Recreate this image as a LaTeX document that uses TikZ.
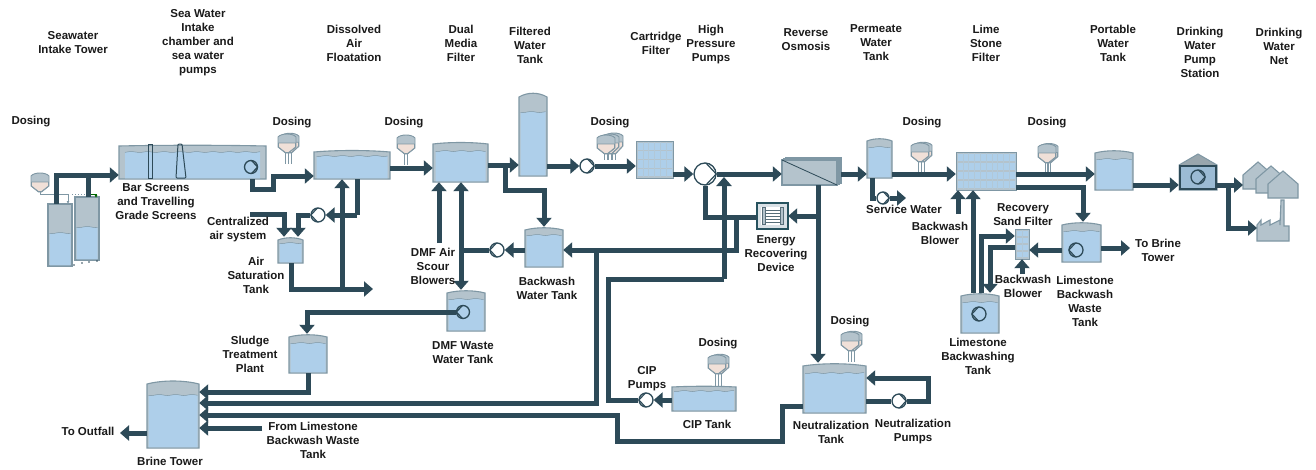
\documentclass[tikz,border=0pt]{standalone}
\usepackage{fontspec}
\setmainfont{Liberation Sans}
\usetikzlibrary{arrows.meta,fit}
\definecolor{pipec}{HTML}{2D4A58}
\definecolor{shell}{HTML}{B4C3CC}
\definecolor{edgec}{HTML}{7F97A4}
\definecolor{waterc}{HTML}{AECFEA}
\definecolor{pinkc}{HTML}{F0E0D8}
\definecolor{txtc}{HTML}{1A1A1A}
\tikzset{
  pipe/.style={draw=pipec,line width=5pt},
  pipea/.style={pipe,-{Triangle[length=9pt,width=15pt]}},
  lab/.style={text=txtc,align=center,inner sep=0pt,font=\fontsize{11.5}{14}\selectfont\bfseries},
  shellst/.style={fill=shell,draw=edgec,line width=1.1pt},
  thin grey/.style={draw=edgec,line width=1pt},
  pumpst/.style={circle,draw=pipec,fill=white,line width=1.3pt,inner sep=0pt},
  tankpump/.style={circle,draw=pipec,line width=1.3pt,inner sep=0pt}
}
\def\tinset{1.5}
\newcommand\mktank[7][3]{%
  \path[shellst] (#3,#4+#1) .. controls (#3+.3*#5-.3*#3,#4) and (#5-.3*#5+.3*#3,#4) .. (#5,#4+#1) -- (#5,#6) -- (#3,#6) -- cycle;
  \fill[waterc] (#3+\tinset,#6-0.6) -- plot[domain=#3+\tinset:#5-\tinset,samples=40] (\x,{#7+0.5*sin(22*(\x-#3))}) -- (#5-\tinset,#6-0.6) -- cycle;
  \draw[edgec,line width=.5pt] plot[domain=#3+\tinset:#5-\tinset,samples=40] (\x,{#7+0.5*sin(22*(\x-#3))});
  \coordinate (#2-a) at (#3,#4);\coordinate (#2-b) at (#5,#6);
  \node[fit=(#2-a)(#2-b),inner sep=0pt] (#2) {};
}
\newcommand\dosing[4]{%
  \foreach \o in {#1}{%
    \draw[thin grey,line width=.8pt] (#2+\o-1.5,#3+20) -- (#2+\o-1.5,#4) (#2+\o+1.5,#3+20) -- (#2+\o+1.5,#4);
    \path[shellst,line width=.9pt] (#2+\o-9,#3-\o/4+4) .. controls (#2+\o-6,#3-\o/4) and (#2+\o+6,#3-\o/4) .. (#2+\o+9,#3-\o/4+4) -- (#2+\o+9,#3-\o/4+14) -- (#2+\o+1.5,#3+20) -- (#2+\o-1.5,#3+20) -- (#2+\o-9,#3-\o/4+14) -- cycle;
    \path[fill=pinkc,draw=edgec,line width=.7pt] (#2+\o-8.5,#3-\o/4+10) -- (#2+\o+8.5,#3-\o/4+10) -- (#2+\o+8.5,#3-\o/4+14) -- (#2+\o+1.5,#3+19.5) -- (#2+\o-1.5,#3+19.5) -- (#2+\o-8.5,#3-\o/4+14) -- cycle;
  }%
}
\newcommand\pmp[6][pumpst]{%
  \node[#1,minimum size=#5*2pt] (#2) at (#3,#4) {};
  \draw[pipec,line width=1.2pt,line join=round] ({#3+#5*cos(#6+85)},{#4-#5*sin(#6+85)}) -- ({#3+#5*1.02*cos(#6)},{#4-#5*1.02*sin(#6)}) -- ({#3+#5*cos(#6-85)},{#4-#5*sin(#6-85)});
}
\newcommand\gridbox[7]{%
  \fill[shell] (#2,#3) rectangle (#4,#5);
  \pgfmathsetmacro\rh{(#5-#3-2)/#6}
  \pgfmathsetmacro\cw{(#4-#2-2)/#7}
  \foreach \r in {1,...,#6}{\fill[waterc] (#2+1.5,#3+1+\rh*\r-\rh+.6) rectangle (#4-1.5,#3+1+\rh*\r-.6);}
  \foreach \c in {1,...,#7}{\draw[shell!60!waterc,line width=.4pt] (#2+1+\cw*\c,#3+1) -- (#2+1+\cw*\c,#5-1);}
  \draw[edgec,line width=1pt] (#2,#3) rectangle (#4,#5);
  \coordinate (#1-a) at (#2,#3);\coordinate (#1-b) at (#4,#5);
  \node[fit=(#1-a)(#1-b),inner sep=0pt] (#1) {};
}
\begin{document}
\begin{tikzpicture}[x=1pt,y=-1pt]
\useasboundingbox (0,0) rectangle (1316,469);
\fill[white] (0,0) rectangle (1316,469);

% ---- tanks
\mktank[0]{intA}{48}{204}{72}{266}{233}
\mktank[0]{intB}{75}{197}{99}{260}{227}
\def\tinset{6}
\mktank[1]{bar}{119}{145}{266}{179}{152}
\def\tinset{1.5}
\draw[pipec,line width=1pt] (148,144.5) rectangle (152,178);
\draw[pipec,line width=1pt,rounded corners=1pt] (178,144) -- (182,144) -- (186,178) -- (176,178) -- cycle;
\def\tinset{2.5}
\mktank[2]{daf}{314}{150}{390}{179}{156}
\mktank[2]{dmf}{433}{142}{488}{182}{151}
\def\tinset{1.5}
\mktank[5]{filt}{519}{92}{547}{176}{112}
\mktank{air}{278}{237}{303}{263}{243}
\mktank{bwt}{525}{227}{563}{267}{235}
\mktank{dmfw}{447}{290}{485}{331}{299}
\mktank{sludge}{289}{334}{327}{373}{343}
\mktank[4]{brine}{147}{380}{199}{448}{395}
\def\tinset{2}
\mktank[1]{cip}{672}{386}{736}{411}{391}
\mktank[3]{neut}{803}{363}{866}{413}{373}
\def\tinset{1.5}
\mktank{perm}{867}{138}{892}{178}{147}
\mktank{potable}{1095}{150}{1133}{190}{159}
\mktank{lbwaste}{1062}{222}{1101}{262}{231}
\mktank{lbtank}{961}{293}{999}{333}{302}

% ---- filters
\gridbox{cart}{636}{141}{673}{178}{4}{6}
\gridbox{lime}{956}{152}{1016}{190}{4}{10}
\gridbox{sand}{1015}{229}{1029}{259}{4}{2}

% ---- reverse osmosis
\path[shellst] (786,158) rectangle (841,183);
\path[shellst] (784,159) rectangle (839,184);
\path[shellst] (782,160) rectangle (837,185);
\draw[pipec,line width=.8pt] (782,160) -- (837,185);
\coordinate (ro-a) at (782,160);\coordinate (ro-b) at (841,185);
\node[fit=(ro-a)(ro-b),inner sep=0pt] (ro) {};

% ---- energy recovering device
\path[fill=shell!50,draw=pipec!85!teal,line width=1.6pt] (757,203) rectangle (788,229);
\fill[white] (761,207) rectangle (784,225);
\foreach \yy in {210,213,216,219,222}{\draw[pipec!80,line width=.9pt] (763,\yy) -- (782,\yy);}
\draw[pipec!80,fill=shell,line width=.8pt] (762,207.5) rectangle (765,224.5) (780,207.5) rectangle (783,224.5);
\coordinate (erd-a) at (757,203);\coordinate (erd-b) at (788,229);
\node[fit=(erd-a)(erd-b),inner sep=0pt] (erd) {};

% ---- pump station
\path[fill=shell!85!black,draw=edgec,line width=1pt] (1179,190) -- (1179,165) -- (1198,154) -- (1217,165) -- (1217,190) -- cycle;
\path[fill=waterc!85!pipec,draw=pipec,line width=1.2pt] (1180,166) rectangle (1216,189);
\coordinate (ps-a) at (1179,154);\coordinate (ps-b) at (1217,190);
\node[fit=(ps-a)(ps-b),inner sep=0pt] (station) {};

% ---- consumers
\foreach \hx/\hy in {1243/162,1256/166,1268/171}{
  \path[shellst] (\hx,\hy+27) -- (\hx,\hy+13) -- (\hx+15,\hy) -- (\hx+30,\hy+13) -- (\hx+30,\hy+27) -- cycle;
}
\path[shellst] (1257,241) -- (1257,225) -- (1261,220) -- (1261,225) -- (1270,220) -- (1270,225) -- (1280,220) -- (1280,225) -- (1281,200) -- (1284,200) -- (1284,226) -- (1289,226) -- (1289,241) -- cycle;
\coordinate (houses) at (1243,185);
\coordinate (factory) at (1257,228);

% ---- dosing units
\draw[thin grey] (40,192) -- (40,194) -- (68,194);
\draw[thin grey,-{Latex[length=3pt,width=3pt]}] (68,194) -- (68,204);
\draw[thin grey,dotted] (72,194) -- (90,194);
\draw[draw=green!40!black,line width=.8pt,-{Latex[length=3pt,width=3pt]}] (90,194) -- (96,194) -- (96,198);
\dosing{0}{40}{172}{192}
\dosing{3,0}{287}{133}{164}
\dosing{0}{406}{134}{165}
\dosing{8,4,0}{606}{134}{160}
\dosing{3,0}{920}{142}{173}
\dosing{2,0}{1047}{143}{173}
\dosing{3,0}{850}{331}{362}
\dosing{3,0}{717}{354}{386}
\foreach \dx/\dy in {74/265,82/263,89/262,97/261}{\fill[pipec] (\dx,\dy) circle (.9);}

% ---- pumps
\pmp[tankpump]{pbar}{251}{167}{6.5}{0}
\pmp{pair}{318}{215}{7}{180}
\pmp{pfilt}{587}{166}{7}{0}
\pmp{pbw}{497}{250}{7}{180}
\pmp[tankpump]{pdmfw}{463}{312}{6.5}{180}
\pmp{phigh}{705}{174}{11}{0}
\pmp{pcip}{646}{400}{7}{180}
\pmp{pneut}{899}{401}{7}{0}
\pmp{pserv}{883}{198}{6}{0}
\pmp[tankpump]{pwaste}{1076}{250}{7}{180}
\pmp[tankpump]{plb}{979}{314}{7}{180}
\pmp[tankpump]{pst}{1198}{177}{7}{0}

% ---- pipes
\coordinate (airin) at (250,214);
\coordinate (dmfblow) at (439,243);
\coordinate (outfall) at (120,433);
\coordinate (limefrom) at (262,428);
\coordinate (toBrine) at (1130,248);
\coordinate (servout) at (906,198);
\coordinate (blowA) at (958,214);
\coordinate (blowB) at (1022,274);
\coordinate (airend) at (373,289);

\draw[pipea] (56,0 |- intA.north) -- (56,175) -- (bar.west |- 0,175);
\draw[pipe] (88,0 |- intB.north) -- (88,175);
\draw[pipea] (252,0 |- bar.south) -- (252,189) -- (273,189) -- (273,176) -- (daf.west |- 0,176);
\draw[pipea] (daf.east |- 0,168) -- (dmf.west |- 0,168);
\draw[pipe] (357,0 |- daf.south) -- (357,215);
\draw[pipea] (357,215) -- (pair.east);
\draw[pipea] (pair.west) -- (298,215) -- (298,0 |- air.north);
\draw[pipea] (airin) -- (284,214) -- (284,0 |- air.north);
\draw[pipea] (291,0 |- air.south) -- (291,289) -- (airend);
\draw[pipea] (342,289) -- (342,0 |- daf.south);
\draw[pipea] (dmfblow) -- (439,0 |- dmf.south);
\draw[pipea] (461,250) -- (461,0 |- dmf.south);
\draw[pipea] (461,250) -- (461,0 |- dmfw.north);
\draw[pipe] (pbw.west) -- (461,250);
\draw[pipea] (bwt.west |- pbw.east) -- (pbw.east);
\draw[pipea] (dmf.east |- 0,165) -- (filt.west |- 0,165);
\draw[pipea] (505,165) -- (505,190) -- (544,190) -- (544,0 |- bwt.north);
\draw[pipea] (filt.east |- pfilt.west) -- (pfilt.west);
\draw[pipea] (pfilt.east) -- (cart.west |- pfilt.east);
\draw[pipea] (cart.east |- phigh.west) -- (phigh.west);
\draw[pipea] (phigh.east) -- (ro.west |- phigh.east);
\draw[pipea] (ro.east |- 0,174) -- (perm.west |- 0,174);
\draw[pipe] (phigh.south) -- (705,217) -- (erd.west |- 0,217);
\draw[pipea] (736,217) -- (736,250) -- (bwt.east |- 0,250);
\draw[pipea] (724,279) -- (724,177);
\draw[pipe] (724,279) -- (608,279) -- (608,400) -- (pcip.west);
\draw[pipea] (cip.west |- pcip.east) -- (pcip.east);
\draw[pipea] (818,0 |- ro.south) -- (818,0 |- neut.north);
\draw[pipea] (818,216) -- (erd.east |- 0,216);
\draw[pipea] (596,250) -- (596,403) -- (brine.east |- 0,403);
\draw[pipea] (neut.west |- 0,406) -- (782,406) -- (782,441) -- (617,441) -- (617,415) -- (brine.east |- 0,415);
\draw[pipea] (308,0 |- sludge.south) -- (308,392) -- (brine.east |- 0,392);
\draw[pipea] (limefrom) -- (brine.east |- 0,428);
\draw[pipea] (brine.west |- 0,433) -- (outfall);
\draw[pipea] (pdmfw.west) -- (307,312) -- (307,0 |- sludge.north);
\draw[pipe] (neut.east |- pneut.west) -- (pneut.west);
\draw[pipea] (pneut.east) -- (928,401) -- (928,378) -- (neut.east |- 0,378);
\draw[pipea] (perm.east |- 0,174) -- (lime.west |- 0,174);
\draw[pipe] (872,0 |- perm.south) -- (872,198) -- (pserv.west);
\draw[pipea] (pserv.east) -- (servout);
\draw[pipea] (blowA) -- (958,0 |- lime.south);
\draw[pipea] (973,0 |- lbtank.north) -- (973,0 |- lime.south);
\draw[pipea] (981,0 |- lbtank.north) -- (981,236) -- (sand.west |- 0,236);
\draw[pipea] (sand.west |- 0,247) -- (990,247) -- (990,0 |- lbtank.north);
\draw[pipea] (blowB) -- (1022,0 |- sand.south);
\draw[pipea] (lbwaste.west |- 0,250) -- (sand.east |- 0,250);
\draw[pipea] (lbwaste.east |- 0,248) -- (toBrine);
\draw[pipea] (lime.east |- 0,174) -- (potable.west |- 0,174);
\draw[pipea] (lime.east |- 0,187) -- (1083,187) -- (1083,0 |- lbwaste.north);
\draw[pipea] (potable.east |- 0,185) -- (station.west |- 0,185);
\draw[pipea] (station.east |- 0,185) -- (houses);
\draw[pipea] (1228,185) -- (1228,228) -- (factory);

% ---- labels
\node[lab] (t1) at (73,43) {Seawater\\Intake Tower};
\node[lab] (t2) at (198,43) {Sea Water\\Intake\\chamber and\\sea water\\pumps};
\node[lab] (t3) at (354,43) {Dissolved\\Air\\Floatation};
\node[lab] (t4) at (461,43) {Dual\\Media\\Filter};
\node[lab] (t5) at (530,45) {Filtered\\Water\\Tank};
\node[lab] (t6) at (656,43.5) {Cartridge\\Filter};
\node[lab] (t7) at (711,45) {High\\Pressure\\Pumps};
\node[lab] (t8) at (806,40) {Reverse\\Osmosis};
\node[lab] (t9) at (876,43) {Permeate\\Water\\Tank};
\node[lab] (t10) at (986,43) {Lime\\Stone\\Filter};
\node[lab] (t11) at (1113,43) {Portable\\Water\\Tank};
\node[lab] (t12) at (1200,52) {Drinking\\Water\\Pump\\Station};
\node[lab] (t13) at (1279,46) {Drinking\\Water\\Net};
\node[lab] (d1) at (31,122) {Dosing};
\node[lab] (d2) at (292,123) {Dosing};
\node[lab] (d3) at (404,123) {Dosing};
\node[lab] (d4) at (610,123) {Dosing};
\node[lab] (d5) at (922,123) {Dosing};
\node[lab] (d6) at (1047,123) {Dosing};
\node[lab] (d7) at (850,322) {Dosing};
\node[lab] (d8) at (718,344) {Dosing};
\node[lab] (n1) at (156,202) {Bar Screens\\and Travelling\\Grade Screens};
\node[lab] (n2) at (238,230) {Centralized\\air system};
\node[lab] (n3) at (256,275) {Air\\Saturation\\Tank};
\node[lab] (n4) at (433,266) {DMF Air\\Scour\\Blowers};
\node[lab] (n5) at (547,288) {Backwash\\Water Tank};
\node[lab] (n6) at (776,254) {Energy\\Recovering\\Device};
\node[lab] (n7) at (463,353) {DMF Waste\\Water Tank};
\node[lab] (n8) at (250,354) {Sludge\\Treatment\\Plant};
\node[lab] (n9) at (88,431) {To Outfall};
\node[lab] (n10) at (313,440) {From Limestone\\Backwash Waste\\Tank};
\node[lab] (n11) at (170,461) {Brine Tower};
\node[lab] (n12) at (647,379) {CIP\\Pumps};
\node[lab] (n13) at (707,424) {CIP Tank};
\node[lab] (n14) at (831,432) {Neutralization\\Tank};
\node[lab] (n15) at (913,432) {Neutralization\\Pumps};
\node[lab] (n16) at (904,209) {Service Water};
\node[lab] (n17) at (940,233) {Backwash\\Blower};
\node[lab] (n18) at (1023,214.5) {Recovery\\Sand Filter};
\node[lab] (n19) at (1023,286) {Backwash\\Blower};
\node[lab] (n20) at (1085,301) {Limestone\\Backwash\\Waste\\Tank};
\node[lab] (n21) at (1158,250) {To Brine\\Tower};
\node[lab] (n22) at (978,356) {Limestone\\Backwashing\\Tank};
\end{tikzpicture}
\end{document}
